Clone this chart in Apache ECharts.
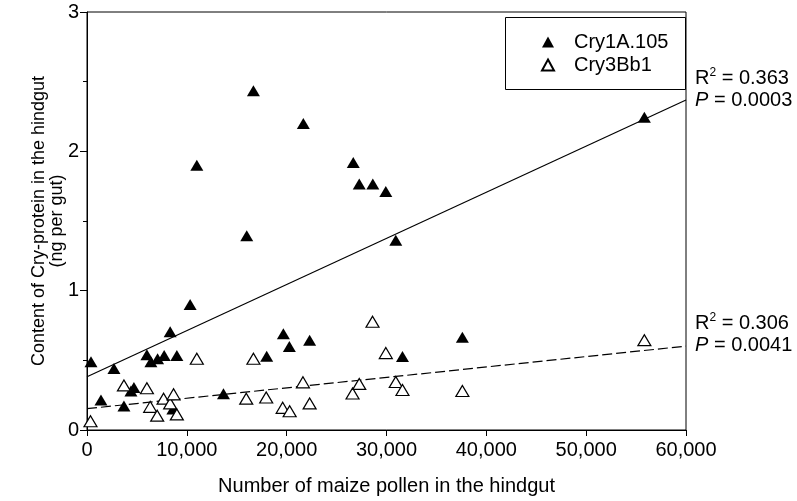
<!DOCTYPE html>
<html>
<head>
<meta charset="utf-8">
<script src="https://cdn.jsdelivr.net/npm/echarts@6/dist/echarts.min.js"></script>
<style>
html,body{margin:0;padding:0;background:#fff;}
#chart{width:797px;height:501px;}
</style>
</head>
<body>
<div id="chart"></div>
<script>
// ---- Data ----
var cry1aPollen  = [400, 1400, 2700, 3700, 4400, 4700, 6000, 6400, 7070, 7730, 8330, 8600, 9000, 10330, 11000, 13670, 16000, 16670, 18000, 19670, 20270, 21670, 22300, 26670, 27270, 28630, 29930, 30930, 31600, 37600, 55830];
var cry1aContent = [0.49, 0.215, 0.442, 0.172, 0.28, 0.305, 0.54, 0.49, 0.511, 0.535, 0.705, 0.15, 0.535, 0.90, 1.90, 0.26, 1.395, 2.435, 0.53, 0.69, 0.60, 2.20, 0.645, 1.92, 1.765, 1.765, 1.712, 1.361, 0.528, 0.666, 2.245];

var cry3bPollen  = [350, 3700, 6000, 6330, 7030, 7670, 8330, 8670, 9000, 11000, 15950, 16670, 17950, 19600, 20300, 21630, 22300, 26600, 27270, 28600, 29930, 30930, 31600, 37600, 55830];
var cry3bContent = [0.063, 0.32, 0.30, 0.166, 0.103, 0.225, 0.191, 0.256, 0.112, 0.511, 0.225, 0.511, 0.233, 0.159, 0.135, 0.342, 0.191, 0.262, 0.331, 0.777, 0.552, 0.345, 0.287, 0.28, 0.645];

// regression lines (end points at x = 0 and x = 60000)
var fitX = [0, 60000];
var fitCry1a = [0.382, 2.368];
var fitCry3b = [0.153, 0.602];

var seriesNames = ['Cry1A.105', 'Cry3Bb1'];
var xTicks = [0, 10000, 20000, 30000, 40000, 50000, 60000];
var yTicks = [0, 1, 2, 3];
var stats = [
  {r2: '0.363', p: '0.0003'},
  {r2: '0.306', p: '0.0041'}
];

function zip(xs, ys) { return xs.map(function (x, i) { return [x, ys[i]]; }); }

var FONT = '"Liberation Sans", Arial, sans-serif';
var FS = 20;
var chart = echarts.init(document.getElementById('chart'), null, {renderer: 'canvas'});

function statText(s) {
  return {
    type: 'text',
    style: {
      text: 'R{sup|2} = ' + s.r2 + '\n{i|P} = ' + s.p,
      fontFamily: FONT, fontSize: FS, fill: '#000', lineHeight: 22,
      rich: {
        sup: {fontSize: 12, fontFamily: FONT, verticalAlign: 'top', lineHeight: 22, padding: [0, 0, 6, 0]},
        i: {fontStyle: 'italic', fontFamily: FONT, fontSize: FS}
      }
    }
  };
}

var g1 = statText(stats[0]); g1.left = 695; g1.top = 67;
var g2 = statText(stats[1]); g2.left = 695; g2.top = 312;

var option = {
  backgroundColor: '#fff',
  animation: false,
  textStyle: {fontFamily: FONT, color: '#000'},
  grid: {left: 87, right: 111, top: 12, bottom: 70, show: true, borderColor: '#000', borderWidth: 1, backgroundColor: 'transparent'},
  xAxis: {
    type: 'value', min: xTicks[0], max: xTicks[xTicks.length - 1], interval: 10000,
    name: 'Number of maize pollen in the hindgut', nameLocation: 'middle', nameGap: 46,
    nameMoveOverlap: false,
    nameTextStyle: {fontSize: FS, color: '#000', fontFamily: FONT},
    axisLine: {show: true, lineStyle: {color: '#000', width: 1}},
    axisTick: {show: true, length: 6, lineStyle: {color: '#000'}},
    axisLabel: {fontSize: FS, color: '#000', fontFamily: FONT, margin: 10,
      formatter: function (v) { return v.toLocaleString('en-US'); }},
    splitLine: {show: false}
  },
  yAxis: {
    type: 'value', min: yTicks[0], max: yTicks[yTicks.length - 1], interval: 1,
    name: 'Content of Cry-protein in the hindgut\n(ng per gut)', nameLocation: 'middle', nameGap: 21,
    nameMoveOverlap: false,
    nameTextStyle: {fontSize: 18, color: '#000', fontFamily: FONT, lineHeight: 18},
    axisLine: {show: true, lineStyle: {color: '#000', width: 1}},
    axisTick: {show: true, length: 7, lineStyle: {color: '#000'}},
    minorTick: {show: true, splitNumber: 2, length: 4, lineStyle: {color: '#000'}},
    axisLabel: {fontSize: FS, color: '#000', fontFamily: FONT, margin: 8},
    splitLine: {show: false}
  },
  legend: {
    data: seriesNames, orient: 'vertical', left: 536, top: 27,
    itemWidth: 12, itemHeight: 11, itemGap: 3,
    textStyle: {fontSize: FS, color: '#000', fontFamily: FONT, padding: [0, 0, 0, 15]}
  },
  graphic: [
    {type: 'rect', left: 503, top: 15, shape: {width: 180, height: 72}, style: {fill: 'none', stroke: '#000', lineWidth: 1}, z: 0},
    g1, g2
  ],
  series: [
    {
      name: seriesNames[0], type: 'scatter', data: zip(cry1aPollen, cry1aContent),
      symbol: 'triangle', symbolSize: [13, 11], z: 3,
      itemStyle: {color: '#000', borderColor: '#000', borderWidth: 0, opacity: 1}
    },
    {
      name: seriesNames[1], type: 'scatter', data: zip(cry3bPollen, cry3bContent),
      symbol: 'triangle', symbolSize: [13, 11], z: 4,
      itemStyle: {color: '#fff', borderColor: '#000', borderWidth: 1.2, opacity: 1}
    },
    {
      name: 'fit1', type: 'line', data: zip(fitX, fitCry1a), symbol: 'none', silent: true, z: 2,
      lineStyle: {color: '#000', width: 1.2, type: 'solid'}
    },
    {
      name: 'fit2', type: 'line', data: zip(fitX, fitCry3b), symbol: 'none', silent: true, z: 2,
      lineStyle: {color: '#000', width: 1.2, type: [10, 4]}
    }
  ]
};
chart.setOption(option);
</script>
</body>
</html>
